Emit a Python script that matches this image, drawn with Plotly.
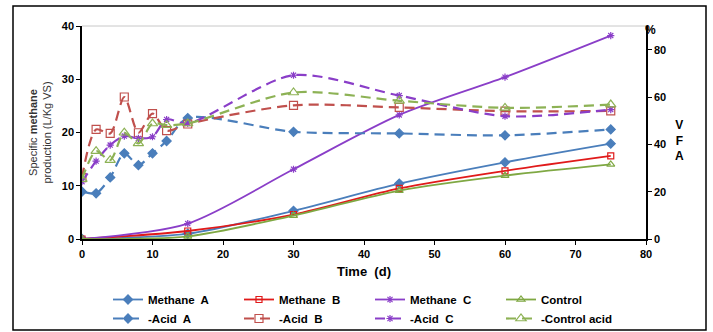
import plotly.graph_objects as go

# ---- data ----
t_methane = [0, 15, 30, 45, 60, 75]
methane_a = [0, 1.0, 5.3, 10.4, 14.4, 17.9]
methane_b = [0, 1.5, 4.6, 9.5, 12.8, 15.6]
methane_c = [0, 2.9, 13.1, 23.3, 30.4, 38.2]
control = [0, 0.5, 4.4, 9.1, 11.9, 14.0]

t_acid = [0, 2, 4, 6, 8, 10, 12, 15, 30, 45, 60, 75]
acid_a = [20.0, 19.3, 26.0, 36.2, 31.2, 36.2, 41.4, 51.1, 45.3, 44.6, 43.8, 46.3]
acid_b = [25.9, 46.3, 44.6, 60.0, 44.9, 53.0, 45.8, 48.6, 56.5, 55.6, 54.0, 54.1]
acid_c = [24.2, 32.9, 39.7, 43.5, 42.5, 43.2, 50.5, 48.8, 69.2, 60.6, 51.9, 54.7]
control_acid = [25.3, 37.1, 33.3, 44.9, 40.4, 48.8, 48.1, 48.8, 61.9, 58.4, 55.4, 56.8]

x_ticks = [0, 10, 20, 30, 40, 50, 60, 70, 80]
left_ticks = [0, 10, 20, 30, 40]
right_ticks = [0, 20, 40, 60, 80]

BLUE = "#4A7EBB"
RED = "#E01A1A"
RED_D = "#C0504D"
PURPLE = "#8A3EC8"
GREEN = "#7FA843"
GREEN_D = "#8DB255"

fig = go.Figure()

def add(name, x, y, color, symbol, dash, axis, msize):
    fig.add_trace(go.Scatter(
        x=x, y=y, name=name, mode="lines+markers", yaxis=axis,
        line=dict(color=color, width=1.8 if dash == "solid" else 2.2,
                  dash=dash, shape="spline", smoothing=0.8),
        marker=dict(symbol=symbol, size=msize, color=color,
                    line=dict(color=color, width=1.2)),
    ))

LD = "10px,6px"
add("Methane  A", t_methane, methane_a, BLUE, "diamond", "solid", "y", 7)
add("Methane  B", t_methane, methane_b, RED, "square-open", "solid", "y", 6)
add("Methane  C", t_methane, methane_c, PURPLE, "asterisk-open", "solid", "y", 6)
add("Control", t_methane, control, GREEN, "triangle-up-open", "solid", "y", 7)
add("-Acid  A", t_acid, acid_a, BLUE, "diamond", LD, "y2", 7)
add("-Acid  B", t_acid, acid_b, RED_D, "square-open", LD, "y2", 8)
add("-Acid  C", t_acid, acid_c, PURPLE, "asterisk-open", LD, "y2", 6)
add("-Control acid", t_acid, control_acid, GREEN_D, "triangle-up-open", LD, "y2", 9)

tickfont = dict(family="Liberation Sans, Arial", size=11, color="#000", weight="bold")

fig.update_layout(
    width=713, height=332,
    margin=dict(l=82, r=67, t=26, b=93, autoexpand=False),
    plot_bgcolor="white", paper_bgcolor="white",
    font=dict(family="Liberation Sans, Arial", color="#000"),
    showlegend=True,
    legend=dict(orientation="h", x=(108 - 82) / 564, xanchor="left",
                y=-(285 - 239) / 213, yanchor="top",
                entrywidth=86, entrywidthmode="pixels", tracegroupgap=0,
                itemwidth=30,
                font=dict(family="Liberation Sans, Arial", size=11.5, color="#000", weight="bold"),
                bgcolor="rgba(0,0,0,0)"),
    xaxis=dict(range=[0, 80], tickvals=x_ticks, ticks="outside", ticklen=4,
               tickcolor="#000", showline=True, linecolor="#000", linewidth=1.5,
               showgrid=False, zeroline=False, tickfont=tickfont, automargin=False,
               title=dict(text="Time  (d)", standoff=8,
                          font=dict(family="Liberation Sans, Arial", size=13, weight="bold"))),
    yaxis=dict(range=[0, 40], tickvals=left_ticks, ticks="outside", ticklen=4,
               tickcolor="#000", showline=True, linecolor="#000", linewidth=1.5,
               showgrid=False, zeroline=False, tickfont=tickfont, automargin=False,
               title=dict(text="Specific <b>methane</b><br>production (L/Kg VS)", standoff=8,
                          font=dict(family="Liberation Sans, Arial", size=11, color="#333"))),
    yaxis2=dict(range=[0, 90], tickvals=right_ticks, overlaying="y", side="right",
                ticks="outside", ticklen=4, tickcolor="#000", showline=True,
                linecolor="#000", linewidth=1.5, showgrid=False, zeroline=False,
                tickfont=tickfont, automargin=False),
)

# plot-area top border (light) and outer frame
fig.add_shape(type="line", xref="paper", yref="paper", x0=0, x1=1, y0=1, y1=1,
              line=dict(color="#C8C8C8", width=1))
fig.add_shape(type="rect", xref="paper", yref="paper",
              x0=(13 - 82) / 564, x1=(706 - 82) / 564,
              y0=(239 - 330) / 213, y1=(239 - 6) / 213,
              line=dict(color="#000", width=1.5), fillcolor="rgba(0,0,0,0)", layer="below")

fig.add_annotation(text="%", xref="paper", yref="paper", x=(658 - 82) / 564,
                   y=(239 - 21) / 213, showarrow=False,
                   font=dict(family="Liberation Sans, Arial", size=12, weight="bold"))
fig.add_annotation(text="V<br>F<br>A", xref="paper", yref="paper", x=(686 - 82) / 564,
                   y=(239 - 140) / 213, showarrow=False,
                   font=dict(family="Liberation Sans, Arial", size=12, weight="bold"))

fig.write_html("out.html", config={"displayModeBar": False})

# remove the browser's default body margin so the figure sits at (0, 0)
with open("out.html", "r", encoding="utf-8") as f:
    html = f.read()
html = html.replace("<head>", "<head><style>html,body{margin:0;padding:0;overflow:hidden;}</style>", 1)
with open("out.html", "w", encoding="utf-8") as f:
    f.write(html)
